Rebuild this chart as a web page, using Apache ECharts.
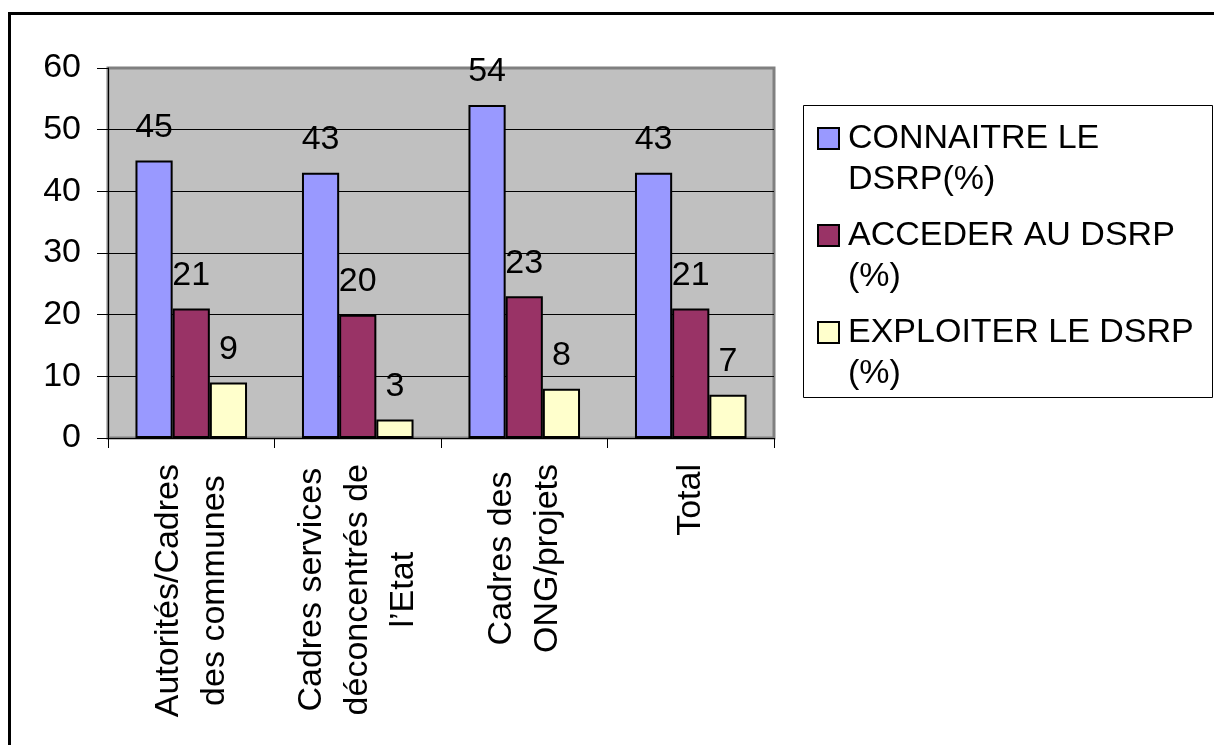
<!DOCTYPE html>
<html>
<head>
<meta charset="utf-8">
<script src="https://cdn.jsdelivr.net/npm/echarts@6/dist/echarts.min.js"></script>
<style>
html,body{margin:0;padding:0;background:#fff;}
#chart{width:1214px;height:745px;}
</style>
</head>
<body>
<div id="chart"></div>
<script>
var categories = [
  'Autorités/Cadres\ndes communes',
  'Cadres services\ndéconcentrés de\nl\u2019Etat',
  'Cadres des\nONG/projets',
  'Total'
];
var seriesNames = ['CONNAITRE LE DSRP(%)', 'ACCEDER AU DSRP (%)', 'EXPLOITER LE DSRP (%)'];
var legendLabels = ['CONNAITRE LE\nDSRP(%)', 'ACCEDER AU DSRP\n(%)', 'EXPLOITER LE DSRP\n(%)'];
var connaitre = [45, 43, 54, 43];
var acceder = [21, 20, 23, 21];
var exploiter = [9, 3, 8, 7];
var colors = ['#9999FF', '#993366', '#FFFFCC'];
var yTicks = [0, 10, 20, 30, 40, 50, 60];

var FONT = '"Liberation Sans", Arial, sans-serif';
var chart = echarts.init(document.getElementById('chart'), null, {renderer: 'canvas'});

function makeSeries(name, data, color) {
  return {
    name: name,
    type: 'bar',
    data: data,
    barGap: '0%',
    barCategoryGap: '33%',
    itemStyle: {color: color, borderColor: '#000', borderWidth: 2},
    label: {
      show: true,
      position: 'top',
      distance: 16,
      color: '#000',
      fontSize: 34,
      fontFamily: FONT
    },
    emphasis: {disabled: true}
  };
}

var option = {
  animation: false,
  backgroundColor: '#fff',
  textStyle: {fontFamily: FONT},
  grid: {
    left: 108, top: 68, right: 440, bottom: 307,
    show: true,
    backgroundColor: '#C0C0C0',
    borderColor: '#808080',
    borderWidth: 3,
    containLabel: false
  },
  legend: {
    orient: 'vertical',
    left: 817,
    top: 77,
    padding: 0,
    itemWidth: 21,
    itemHeight: 21,
    itemGap: -26,
    icon: 'rect',
    itemStyle: {borderColor: '#000', borderWidth: 2},
    selectedMode: false,
    data: seriesNames,
    formatter: function (name) {
      // leading empty line keeps the first text line level with the marker
      return '\n' + legendLabels[seriesNames.indexOf(name)];
    },
    textStyle: {
      color: '#000',
      fontSize: 34,
      lineHeight: 41,
      fontFamily: FONT,
      padding: [0, 0, 0, 4]
    }
  },
  xAxis: {
    type: 'category',
    data: categories,
    axisLine: {show: true, lineStyle: {color: '#000', width: 1}},
    axisTick: {show: true, length: 10, alignWithLabel: false, lineStyle: {color: '#000'}},
    axisLabel: {
      interval: 0,
      rotate: 90,
      margin: 26,
      color: '#000',
      fontSize: 34,
      fontFamily: FONT,
      formatter: function (v) {
        return v.split('\n').map(function (s) { return '{a|' + s + '}'; }).join('\n');
      },
      rich: {
        a: {align: 'center', fontSize: 34, lineHeight: 46, fontFamily: FONT, color: '#000'}
      }
    },
    splitLine: {show: false}
  },
  yAxis: {
    type: 'value',
    min: yTicks[0],
    max: yTicks[yTicks.length - 1],
    interval: 10,
    axisLine: {show: true, lineStyle: {color: '#000', width: 1}},
    axisTick: {show: true, length: 11, lineStyle: {color: '#000'}},
    axisLabel: {color: '#000', fontSize: 34, fontFamily: FONT, margin: 27},
    splitLine: {show: true, showMinLine: false, showMaxLine: false, lineStyle: {color: '#000', width: 1}}
  },
  graphic: [
    {
      type: 'rect',
      shape: {x: 9.5, y: 13.5, width: 1400, height: 1000},
      style: {fill: 'none', stroke: '#000', lineWidth: 3},
      silent: true
    },
    {
      type: 'rect',
      shape: {x: 803.5, y: 105.5, width: 409, height: 292},
      style: {fill: 'none', stroke: '#000', lineWidth: 1},
      silent: true
    }
  ],
  series: [
    makeSeries(seriesNames[0], connaitre, colors[0]),
    makeSeries(seriesNames[1], acceder, colors[1]),
    makeSeries(seriesNames[2], exploiter, colors[2])
  ]
};
chart.setOption(option);
</script>
</body>
</html>
